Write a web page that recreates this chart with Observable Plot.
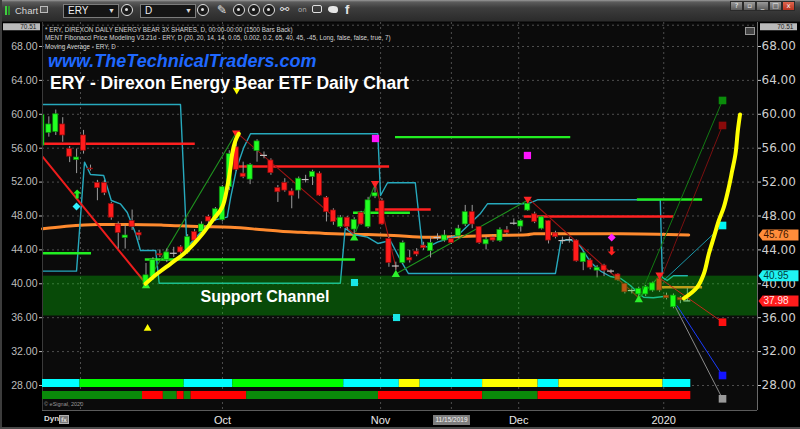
<!DOCTYPE html>
<html>
<head>
<meta charset="utf-8">
<title>ERY - Direxon Energy Bear ETF Daily Chart</title>
<script src="https://cdn.jsdelivr.net/npm/d3@7"></script>
<script src="https://cdn.jsdelivr.net/npm/@observablehq/plot@0.6"></script>
<style>
  html, body { margin: 0; padding: 0; background: #000; }
  #screen { position: relative; width: 800px; height: 429px; overflow: hidden; background: #000;
            font-family: "Liberation Sans", Arial, sans-serif; }
  #chart, #strip { position: absolute; left: 0; }
  #chart { top: 0; }
  #strip { top: 376px; }
  #toolbar { position: absolute; left: 0; top: 0; width: 800px; height: 21px;
             background: linear-gradient(#9a9a9a 0px, #5c5c5c 2px, #3d3d3d 8px, #2c2c2c 20px);
             border-bottom: 1px solid #181818; }
  .abs { position: absolute; white-space: nowrap; }
  .tb-text { top: 5px; font: 9.5px "Liberation Sans", Arial, sans-serif; color: #d6d6d6; }
  .combo { top: 4px; background: #151515; border: 1px solid #7c7c7c; color: #eee;
           font: 10px "Liberation Sans", Arial, sans-serif; line-height: 12px; padding-left: 4px; box-sizing: border-box; height: 14px; }
  .combo .dd { position: absolute; right: 3px; top: 0; font-size: 7px; color: #ddd; }
  .ring { top: 4px; width: 12px; height: 12px; border: 1.5px solid #e2e2e2; border-radius: 50%; background: #1b1b1b; box-sizing: border-box; }
  .ring::after { content: ""; position: absolute; left: 3px; top: 3px; width: 3px; height: 3px; background: #e2e2e2; border-radius: 50%; }
  .icon { top: 3px; color: #e4e4e4; font: 12px "DejaVu Sans", sans-serif; }
  .winbtn { top: 1px; width: 11px; height: 8px; background: linear-gradient(#9a9a9a, #5a5a5a); border: 1px solid #2a2a2a;
            font: 7px "DejaVu Sans", sans-serif; color: #f0f0f0; text-align: center; line-height: 8px; }
  .study { left: 45px; font: 6.3px "Liberation Sans", Arial, sans-serif; color: #d4d4d4; line-height: 8.7px; }
  #site { left: 48px; top: 51.5px; font: italic bold 18px "Liberation Sans", Arial, sans-serif; color: #1f68ff; line-height: 18px; }
  #title { left: 50px; top: 74.5px; font: bold 17.5px "Liberation Sans", Arial, sans-serif; color: #fff; line-height: 17.5px; }
</style>
</head>
<body>
<div id="screen">
  <div id="chart"></div>
  <div id="strip"></div>

  <div id="toolbar">
    <div class="abs" style="left:5px;top:6px;width:2px;height:9px;background:#3fcf3f"></div>
    <div class="abs" style="left:8px;top:6px;width:2px;height:9px;background:#2a9a2a"></div>
    <div class="abs tb-text" style="left:15px">Chart</div>
    <div class="abs" style="left:40px;top:6px;width:8px;height:7px;border:1px solid #bbb;background:#555;box-sizing:border-box"></div>
    <div class="abs combo" style="left:63px;width:56px">ERY<span class="dd">▼</span></div>
    <div class="abs ring" style="left:121px"></div>
    <div class="abs combo" style="left:140px;width:56px">D<span class="dd">▼</span></div>
    <div class="abs ring" style="left:197px"></div>
    <div class="abs icon" style="left:217px">✎</div>
    <div class="abs ring" style="left:233px"></div>
    <div class="abs ring" style="left:248px"></div>
    <div class="abs ring" style="left:263px"></div>
    <div class="abs icon" style="left:280px;font-size:11px">⚯</div>
    <div class="abs icon" style="left:298px;font-size:7px;top:6px;color:#aaa">on</div>
    <div class="abs" style="left:312px;top:5px;width:10px;height:8px;border:1.5px solid #e0e0e0;border-radius:2px;box-sizing:border-box"></div>
    <div class="abs" style="left:328px;top:6px;width:10px;height:7px;background:#e6e6e6;border-radius:50% 50% 40% 60%"></div>
    <div class="abs icon" style="left:345px;font:bold 13px 'Liberation Sans',Arial,sans-serif;top:2px">f</div>
    <div class="abs winbtn" style="left:730px">?</div>
    <div class="abs winbtn" style="left:743px">▫</div>
    <div class="abs winbtn" style="left:756px">_</div>
    <div class="abs winbtn" style="left:769px">□</div>
    <div class="abs winbtn" style="left:782px;background:linear-gradient(#e0664f,#b8321f)">x</div>
  </div>

  <div class="abs study" style="top:25.5px">* ERY, DIREXON DAILY ENERGY BEAR 3X SHARES, D, 00:00-00:00 (1500 Bars Back)</div>
  <div class="abs study" style="top:34.2px">MENT Fibonacci Price Modeling V3.21d - ERY, D (20, 20, 14, 14, 0.05, 0.002, 0.2, 65, 40, 45, -45, Long, false, false, true, 7)</div>
  <div class="abs study" style="top:42.8px">Moving Average - ERY, D</div>
  <div class="abs" id="site">www.TheTechnicalTraders.com</div>
  <div class="abs" id="title">ERY - Direxon Energy Bear ETF Daily Chart</div>
  <div class="abs" style="left:745px;top:27px;width:8px;height:6px;border:1px solid #999;background:#444"></div>

  <div class="abs" style="left:44px;top:401px;font:5.5px 'Liberation Sans',Arial,sans-serif;color:#9a9a9a">© eSignal, 2020</div>
  <div class="abs" style="left:44px;top:414px;font:bold 8px 'Liberation Sans',Arial,sans-serif;color:#dcdcdc">Dyn</div>
  <div class="abs" style="left:59px;top:415px;width:10px;height:9px;background:#7a7a7a;border:1px solid #b0b0b0;box-sizing:border-box;font:6px 'DejaVu Sans';color:#fff;text-align:center;line-height:7px">fx</div>
  <div class="abs" style="left:433px;top:415px;width:37px;height:10px;background:#7d7d7d;font:6.5px 'Liberation Sans',Arial,sans-serif;color:#f2f2f2;text-align:center;line-height:10px">11/15/2019</div>
  <div class="abs" style="left:0;top:0;width:1.5px;height:429px;background:#3c3c3c"></div>
  <div class="abs" style="left:0;top:427px;width:800px;height:2px;background:#4a4a4a"></div>
</div>

<script>
// ---- view extents (bar index, price) ----
const xDomain = [0.0865, 103.11];
const yDomain = [25.05, 70.83];

// ---- daily bars, Aug 23 2019 .. Jan 8 2020 (index 0 is the partly hidden first bar) ----
const opens = [56.3,57.8,57.9,58.8,55.9,54.6,57.5,53.6,51.9,51.9,
  49.4,47.0,45.4,47.4,46.0,40.0,40.8,43.5,42.8,43.6,
  44.3,43.7,46.1,46.1,47.9,47.7,47.5,51.4,56.1,53.0,
  52.3,55.65,55.15,54.55,51.3,51.9,50.9,51.0,52.3,52.6,
  53.0,50.15,48.65,46.7,47.8,46.4,48.35,46.7,50.3,49.75,
  45.3,42.1,42.45,43.05,43.8,44.5,43.85,45.45,45.1,45.3,
  45.6,47.0,48.45,46.7,44.65,45.45,45.05,46.3,47.15,46.75,
  48.65,48.2,46.5,47.4,45.95,45.1,45.2,45.1,42.55,42.75,
  41.55,42.15,41.5,41.1,40.0,39.2,38.75,38.75,39.2,40.6,
  38.6,37.25,38.35,37.98];
const highs = [60.2,59.7,60.5,59.6,56.2,55.9,58.1,54.0,52.2,52.2,
  49.6,47.3,46.9,48.7,46.3,42.4,43.1,44.0,44.1,44.3,
  44.5,45.8,46.4,47.3,48.1,49.0,51.6,55.7,57.85,54.35,
  54.2,57.0,55.55,54.75,51.6,52.4,51.2,52.6,52.8,53.4,
  53.2,50.3,48.85,48.05,47.95,47.8,48.55,50.2,51.8,50.05,
  45.5,42.55,45.05,43.95,44.15,44.9,45.5,45.9,46.3,45.7,
  46.9,49.25,49.25,46.75,45.5,45.7,46.6,46.75,47.65,47.55,
  49.95,48.45,47.95,47.45,46.2,45.5,45.5,45.2,43.75,42.95,
  42.15,42.3,41.65,41.2,40.05,39.4,39.6,39.8,40.2,40.8,
  38.9,38.8,38.5,39.45];
const lows = [56.0,57.3,57.5,56.7,54.3,53.0,55.3,53.3,49.8,50.4,
  47.5,44.1,44.1,46.3,45.1,39.6,40.4,43.1,42.5,43.1,
  43.5,43.5,44.9,45.9,47.0,47.4,47.3,51.0,53.25,52.4,
  51.7,54.35,54.75,52.8,49.6,50.8,48.85,50.0,51.9,51.6,
  50.3,47.3,46.9,46.5,46.3,45.9,46.9,46.5,50.05,46.9,
  41.95,41.55,42.3,42.45,43.2,43.95,43.05,45.1,44.9,44.65,
  45.3,46.75,46.5,44.65,44.0,44.9,44.9,45.7,46.9,46.1,
  48.55,47.1,46.35,44.7,45.3,44.65,44.8,42.55,41.55,41.65,
  40.7,40.85,41.2,40.3,38.8,38.8,38.5,38.5,39.0,39.0,
  38.1,37.05,37.65,37.9];
const closes = [59.9,58.8,60.0,57.5,55.0,54.9,55.7,53.5,51.3,50.7,
  47.8,46.0,45.7,46.7,45.7,41.0,42.8,43.35,43.7,43.6,
  43.7,45.5,45.1,47.0,47.35,48.8,51.4,55.3,53.45,52.6,
  54.0,56.8,55.15,53.05,50.8,51.0,50.4,52.4,52.3,53.2,
  50.4,48.45,47.3,47.8,46.7,47.55,47.0,49.85,50.7,47.0,
  42.45,42.1,44.8,42.75,43.45,44.2,44.8,45.45,45.7,44.8,
  46.5,48.45,47.0,44.8,45.2,45.1,46.35,46.0,47.15,47.4,
  49.45,47.3,47.85,45.1,45.5,45.1,45.2,42.65,43.6,41.9,
  41.9,41.55,41.5,40.4,39.0,39.2,39.4,39.6,40.05,39.2,
  38.3,38.6,38.05,37.98];

// ---- price and time axis ----
const priceTicks = [28, 32, 36, 40, 44, 48, 52, 56, 60, 64, 68];
const topValue = 70.51;
const gridBars = [5.56, 26.02, 48.8, 59.0, 68.7, 89.6];   // Sep, Oct, Nov, 11/15, Dec, 2020
const monthBars = [26.02, 48.8, 68.7, 89.6];
const monthLabels = ["Oct", "Nov", "Dec", "2020"];

// ---- moving average [bar, price] ----
const movingAverage = [[0.09,46.49],[3.2,46.76],[8,47.0],[12.8,47.0],[17.5,46.92],[22.4,46.76],[27.2,46.68],
  [31.9,46.37],[34.4,46.2],[37.3,46.09],[42.1,45.9],[46.9,45.82],[50.7,45.7],[55.5,45.5],[60.3,45.58],
  [65.1,45.7],[69.9,45.78],[70.9,45.9],[83.4,45.9],[93.2,45.76]];

// ---- trailing stop lines [bar, price] ----
const stopUpper = [[0.09,61.16],[19.97,61.16],[20.9,44.3],[22.9,46.1],[24.5,47.47],[26.7,47.86],[27.2,50.2],
  [28.1,53.76],[29.1,56.1],[30.06,57.7],[48.4,57.7],[48.8,50.42],[49.8,51.92],[53.8,51.92],[54.8,44.52],
  [55.6,44.32],[57,44.91],[59.9,45.7],[63.2,48.3],[64.2,49.44],[70,49.44],[71.4,49.91],[89.1,49.91],
  [89.4,40.74],[90.1,40.39],[91,40.95],[93,40.95]];
const stopLower = [[0.09,41.49],[4.99,41.49],[6.14,54.35],[7,52.9],[8.9,52.78],[10,49.83],[11.3,49.44],
  [12.3,48.41],[13.5,45.94],[14.2,43.93],[16.4,43.93],[16.9,40.07],[43,40.07],[43.7,46.52],[44.9,45.82],
  [46.9,45.5],[48.4,44.76],[50.2,45.11],[51.7,42.75],[52.8,41.22],[74,41.22],[74.8,45.1],[76.2,45.2],
  [77.6,44.4],[79.1,42.5],[80.5,41.5],[81.9,40.86],[83.4,40.63],[84.8,39.8],[85.8,39.01],[86.7,38.42],
  [88.1,38.35],[89.6,38.5]];

// ---- Fibonacci price levels ----
const levelPrices = [56.52, 53.84, 48.77, 47.94, 43.61, 42.87, 57.3, 48.38, 49.95, 39.6];
const levelFrom   = [0.09, 28.04, 48.1, 69.5, 0.09, 14.9, 50.95, 44.9, 85.8, 89.1];
const levelTo     = [22.1, 50.1, 56.1, 91.1, 7.15, 45.2, 76.2, 53.1, 95.2, 95.2];
const levelKinds  = ["resist","resist","resist","resist","support","support","support","support","support","pivot"];

// ---- swing legs [bar1, price1, bar2, price2] ----
const swingLegs = [[0.09,55.0,14.93,40.07],[15.17,40.19,28.04,57.89],[28.15,57.77,45.04,45.82],
  [45.2,46.1,48.07,51.83],[48.07,51.83,51.05,41.8],[51.05,41.18,69.93,49.83],[70.16,50.03,86.0,38.35],
  [86.0,38.3,89.0,40.9]];
const swingKinds = ["major","up","down","up","down","up","down","up"];

// ---- price projections ----
const projectionBar = 98.07;
const projectionFrom = [[86.0,38.2],[89.3,40.8],[89.6,40.4],[89.1,40.6],[91.5,37.44],[91.3,37.24]];
const projectionPrices = [61.63, 58.68, 46.88, 35.47, 29.18, 26.43];
const projectionKinds = ["bull2","bull1","mid","bear1","bear2","bear3"];

// ---- support channel ----
const channelLow = 36.2, channelHigh = 40.9;
const channelLabel = {text: "Support Channel", bar: 22.85, price: 38.5};

// ---- signals ----
const peakBars = [28, 48, 70, 89],   peakPrices = [57.8, 51.83, 50.0, 41.04];
const troughBars = [15, 45, 51, 86], troughPrices = [39.75, 45.4, 41.1, 38.1];
const cycleTop = [28.07, 62.87], cycleBottom = [15.23, 34.73];
const magentaSquares = [[48.07,57.14],[69.96,55.14]];
const cyanSquares = [[45.04,40.15],[51.1,36.02]];
const magentaDiamonds = [[82.1,45.46]];
const cyanDiamonds = [[4.99,49.12]];
const upArrows = [[5.08,50.54]];
const downArrows = [[82.1,43.93]];

// ---- hand-drawn highlights [bar, price] ----
const rallyOct = [[14.93,40.0],[16.61,41.18],[18.53,42.36],[20.45,43.54],[21.89,44.72],[23.33,46.09],
  [24.77,47.67],[25.98,49.04],[26.7,51.4],[27.18,53.76],[27.42,55.34],[27.9,56.91],[28.37,57.7]];
const rallyJan = [[92.5,38.27],[94.42,39.6],[95.38,41.18],[96.1,43.54],[96.82,45.5],[97.54,47.47],
  [98.26,49.04],[98.98,51.4],[99.47,53.37],[99.94,55.34],[100.28,58.09],[100.59,59.98]];

// ---- last values on the price axis ----
const lastValues = [45.76, 40.95, 37.98];
const lastKinds = ["ma", "stop", "close"];

// ---- indicator strip: segment end bars and states ----
const trendEnds = [5, 20, 27, 43, 51, 54, 63, 71, 74, 89, 93];
const trendStates = ["flat","up","flat","up","flat","warn","flat","warn","flat","warn","flat"];
const signalEnds = [14, 17, 19, 20, 21, 29, 48, 63, 71, 93];
const signalStates = ["buy","sell","buy","sell","buy","sell","buy","sell","buy","sell"];

// ================= drawing =================
const C = {
  up: "#22ff22", upEdge: "#0c8c0c", down: "#ff1c1c", downEdge: "#8c0c0c", wick: "#9c9c9c", doji: "#c4c4c4",
  grid: "#4e4e4e", ma: "#ff8a2e", stop: "#27a9bd",
  level: {resist: "#ff2020", support: "#22ee22", pivot: "#ff7a22"},
  swing: {major: "#ee1c1c", up: "#1f941f", down: "#a01414"},
  proj: {bull2: "#0b8c0b", bull1: "#8a0a0a", mid: "#00f4f4", bear1: "#ff1010", bear2: "#1414ff", bear3: "#9a9a9a"},
  projLine: {bull2: "#127a12", bull1: "#7a1010", mid: "#1a96a8", bear1: "#c02a1a", bear2: "#1a3cff", bear3: "#8a8a8a"},
  tag: {ma: ["#ff8c3a", "#3a1400"], stop: ["#1ff2f2", "#003c3c"], close: ["#ff1c1c", "#ffe6e6"]}
};

const xMin = xDomain[0];
const candles = opens.map((o, i) => ({i, open: o, high: highs[i], low: lows[i], close: closes[i]}));
const bodies = candles.filter(d => d.open !== d.close);
const dojis = candles.filter(d => d.open === d.close);
const levels = levelPrices.map((p, k) => ({price: p, from: levelFrom[k], to: levelTo[k], kind: levelKinds[k]}));
const legs = swingLegs.map((s, k) => ({x1: s[0], y1: s[1], x2: s[2], y2: s[3], kind: swingKinds[k]}));
const projections = projectionPrices.map((p, k) => ({
  x1: projectionFrom[k][0], y1: projectionFrom[k][1], x2: projectionBar, y2: p, kind: projectionKinds[k]}));
const pts = a => a.map(([b, p]) => ({b, p}));
const tags = lastValues.map((v, k) => ({value: v, kind: lastKinds[k]}));

// price tag shapes (geometry only)
const tagArrow = {draw(ctx) { ctx.moveTo(-20, 0); ctx.lineTo(-16, -5.5); ctx.lineTo(20, -5.5); ctx.lineTo(20, 5.5); ctx.lineTo(-16, 5.5); ctx.closePath(); }};
const tagBox = {draw(ctx) { ctx.moveTo(-18.5, -3.5); ctx.lineTo(18.5, -3.5); ctx.lineTo(18.5, 3.5); ctx.lineTo(-18.5, 3.5); ctx.closePath(); }};
const arrowUp = {draw(ctx) { ctx.moveTo(0, -5); ctx.lineTo(4, -1); ctx.lineTo(1.5, -1); ctx.lineTo(1.5, 4); ctx.lineTo(-1.5, 4); ctx.lineTo(-1.5, -1); ctx.lineTo(-4, -1); ctx.closePath(); }};
const arrowDown = {draw(ctx) { ctx.moveTo(0, 5); ctx.lineTo(4, 1); ctx.lineTo(1.5, 1); ctx.lineTo(1.5, -4); ctx.lineTo(-1.5, -4); ctx.lineTo(-1.5, 1); ctx.lineTo(-4, 1); ctx.closePath(); }};

const fmt2 = d => d.toFixed(2);
const monthLabel = new Map(monthBars.map((b, k) => [b, monthLabels[k]]));

const chart = Plot.plot({
  width: 800, height: 429,
  marginTop: 22, marginBottom: 19, marginLeft: 42, marginRight: 43,
  x: {domain: xDomain, label: null},
  y: {domain: yDomain, label: null},
  color: {type: "identity"},
  style: {background: "#000", fontFamily: "DejaVu Sans, sans-serif", overflow: "visible"},
  marks: [
    Plot.frame({fill: "#0b0b0b", stroke: null}),
    Plot.ruleY(priceTicks.concat([topValue]), {stroke: C.grid, strokeDasharray: "2,3"}),
    Plot.ruleX(gridBars, {stroke: C.grid, strokeDasharray: "2,3"}),

    // moving average and trailing stops
    Plot.line(pts(movingAverage), {x: "b", y: "p", stroke: C.ma, strokeWidth: 3, curve: "monotone-x"}),
    Plot.line(pts(stopUpper), {x: "b", y: "p", stroke: C.stop, strokeWidth: 1.4}),
    Plot.line(pts(stopLower), {x: "b", y: "p", stroke: C.stop, strokeWidth: 1.4}),

    // Fibonacci levels and swing legs
    Plot.ruleY(levels, {y: "price", x1: "from", x2: "to", stroke: d => C.level[d.kind], strokeWidth: 2.4}),
    Plot.link(legs, {x1: "x1", y1: "y1", x2: "x2", y2: "y2", stroke: d => C.swing[d.kind],
                     strokeWidth: d => d.kind === "major" ? 2 : 1.1}),

    // candles
    Plot.ruleX(candles.filter(d => d.i >= xMin), {x: "i", y1: "low", y2: "high", stroke: C.wick}),
    Plot.rect(bodies, {x1: d => Math.max(d.i - 0.37, xMin), x2: d => d.i + 0.37, y1: "open", y2: "close",
                       fill: d => d.close > d.open ? C.up : C.down,
                       stroke: d => d.close > d.open ? C.upEdge : C.downEdge, strokeWidth: 0.7}),
    Plot.ruleY(dojis, {y: "close", x1: d => d.i - 0.5, x2: d => d.i + 0.5, stroke: C.doji, strokeWidth: 1.2}),

    // support channel
    Plot.rect([{low: channelLow, high: channelHigh}], {y1: "low", y2: "high", fill: "#00ff00", fillOpacity: 0.26}),

    // projections
    Plot.link(projections, {x1: "x1", y1: "y1", x2: "x2", y2: "y2", stroke: d => C.projLine[d.kind], strokeWidth: 1}),
    Plot.dot(projections, {x: "x2", y: "y2", symbol: "square", r: 4.3, fill: d => C.proj[d.kind], stroke: null}),

    // signals
    Plot.dot(peakBars.map((b, k) => ({b, p: peakPrices[k]})), {x: "b", y: "p", symbol: "triangle", rotate: 180, r: 3.1, fill: "#ff2424"}),
    Plot.dot(troughBars.map((b, k) => ({b, p: troughPrices[k]})), {x: "b", y: "p", symbol: "triangle", r: 3.1, fill: "#2cf02c"}),
    Plot.dot([{b: cycleTop[0], p: cycleTop[1]}], {x: "b", y: "p", symbol: "triangle", rotate: 180, r: 2.9, fill: "#ffff00"}),
    Plot.dot([{b: cycleBottom[0], p: cycleBottom[1]}], {x: "b", y: "p", symbol: "triangle", r: 2.9, fill: "#ffff00"}),
    Plot.dot(pts(magentaSquares), {x: "b", y: "p", symbol: "square", r: 4.1, fill: "#ff14ff"}),
    Plot.dot(pts(cyanSquares), {x: "b", y: "p", symbol: "square", r: 4.0, fill: "#19e6e6"}),
    Plot.dot(pts(magentaDiamonds), {x: "b", y: "p", symbol: "diamond2", r: 3.6, fill: "#ff20ff"}),
    Plot.dot(pts(cyanDiamonds), {x: "b", y: "p", symbol: "diamond2", r: 3.6, fill: "#30f0ff"}),
    Plot.dot(pts(upArrows), {x: "b", y: "p", symbol: arrowUp, fill: "#22ee22"}),
    Plot.dot(pts(downArrows), {x: "b", y: "p", symbol: arrowDown, fill: "#ff2020"}),

    // hand-drawn rally highlights
    Plot.line(pts(rallyOct), {x: "b", y: "p", stroke: "#ffff00", strokeWidth: 4, curve: "catmull-rom", strokeLinecap: "round"}),
    Plot.line(pts(rallyJan), {x: "b", y: "p", stroke: "#ffff00", strokeWidth: 4, curve: "catmull-rom", strokeLinecap: "round"}),

    Plot.text([channelLabel], {x: "bar", y: "price", text: "text", textAnchor: "start", fill: "#fff",
                               fontSize: 16, fontWeight: "bold", fontFamily: "Liberation Sans, Arial, sans-serif"}),

    // axes
    Plot.axisY({anchor: "right", ticks: priceTicks, tickFormat: fmt2, tickSize: 3, tickPadding: 1,
                fontSize: 12, color: "#cdcdcd", label: null}),
    Plot.axisY({anchor: "left", ticks: priceTicks, tickFormat: fmt2, tickSize: 3, tickPadding: 2,
                fontSize: 10.5, fontFamily: "Liberation Sans, Arial, sans-serif", color: "#bdbdbd", label: null}),
    Plot.axisX({ticks: monthBars, tickFormat: d => monthLabel.get(d), tickSize: 0, tickPadding: 6,
                fontSize: 11, fontFamily: "Liberation Sans, Arial, sans-serif", color: "#e8e8e8", label: null}),
    Plot.ruleX([xDomain[1]], {stroke: "#6a6a6a"}),
    Plot.ruleY([yDomain[0]], {stroke: "#5a5a5a"}),
    Plot.ruleX([xDomain[0]], {stroke: "#3a3a3a"}),

    // value tags
    Plot.dot(tags, {y: "value", frameAnchor: "right", dx: 21, symbol: tagArrow, fill: d => C.tag[d.kind][0], stroke: null}),
    Plot.text(tags, {y: "value", frameAnchor: "right", dx: 6, text: d => fmt2(d.value), textAnchor: "start",
                     fill: d => C.tag[d.kind][1], fontSize: 10, fontFamily: "Liberation Sans, Arial, sans-serif"}),
    Plot.dot([topValue], {y: d => d, frameAnchor: "right", dx: 21, dy: 1.6, symbol: tagBox, fill: "#b9b9b9", stroke: null}),
    Plot.dot([topValue], {y: d => d, frameAnchor: "left", dx: -21, dy: 1.6, symbol: tagBox, fill: "#b9b9b9", stroke: null}),
    Plot.text([topValue], {y: d => d, frameAnchor: "right", dx: 36, dy: 1.8, text: fmt2, textAnchor: "end",
                           fill: "#1c1c1c", fontSize: 6.5, fontFamily: "Liberation Sans, Arial, sans-serif"}),
    Plot.text([topValue], {y: d => d, frameAnchor: "left", dx: -6, dy: 1.8, text: fmt2, textAnchor: "end",
                           fill: "#1c1c1c", fontSize: 6.5, fontFamily: "Liberation Sans, Arial, sans-serif"})
  ]
});
document.getElementById("chart").appendChild(chart);

// indicator strip below the price panel
function segments(ends, states, row) {
  return ends.map((e, k) => ({from: k === 0 ? 0 : ends[k - 1] + 1, to: e, state: states[k], row}));
}
const stripData = segments(trendEnds, trendStates, "trend").concat(segments(signalEnds, signalStates, "signal"));
const strip = Plot.plot({
  width: 800, height: 26,
  marginTop: 3, marginBottom: 3, marginLeft: 42, marginRight: 43,
  x: {domain: xDomain, axis: null},
  y: {domain: ["trend", "signal"], axis: null, paddingInner: 0.35, paddingOuter: 0},
  color: {domain: ["flat", "up", "warn", "buy", "sell"], range: ["#00ffff", "#00ff00", "#ffff00", "#0a8a0a", "#ff0000"]},
  style: {background: "transparent"},
  marks: [
    Plot.barX(stripData, {x1: d => Math.max(d.from - 0.5, xMin), x2: d => d.to + 0.5, y: "row", fill: "state"})
  ]
});
document.getElementById("strip").appendChild(strip);
</script>
</body>
</html>
